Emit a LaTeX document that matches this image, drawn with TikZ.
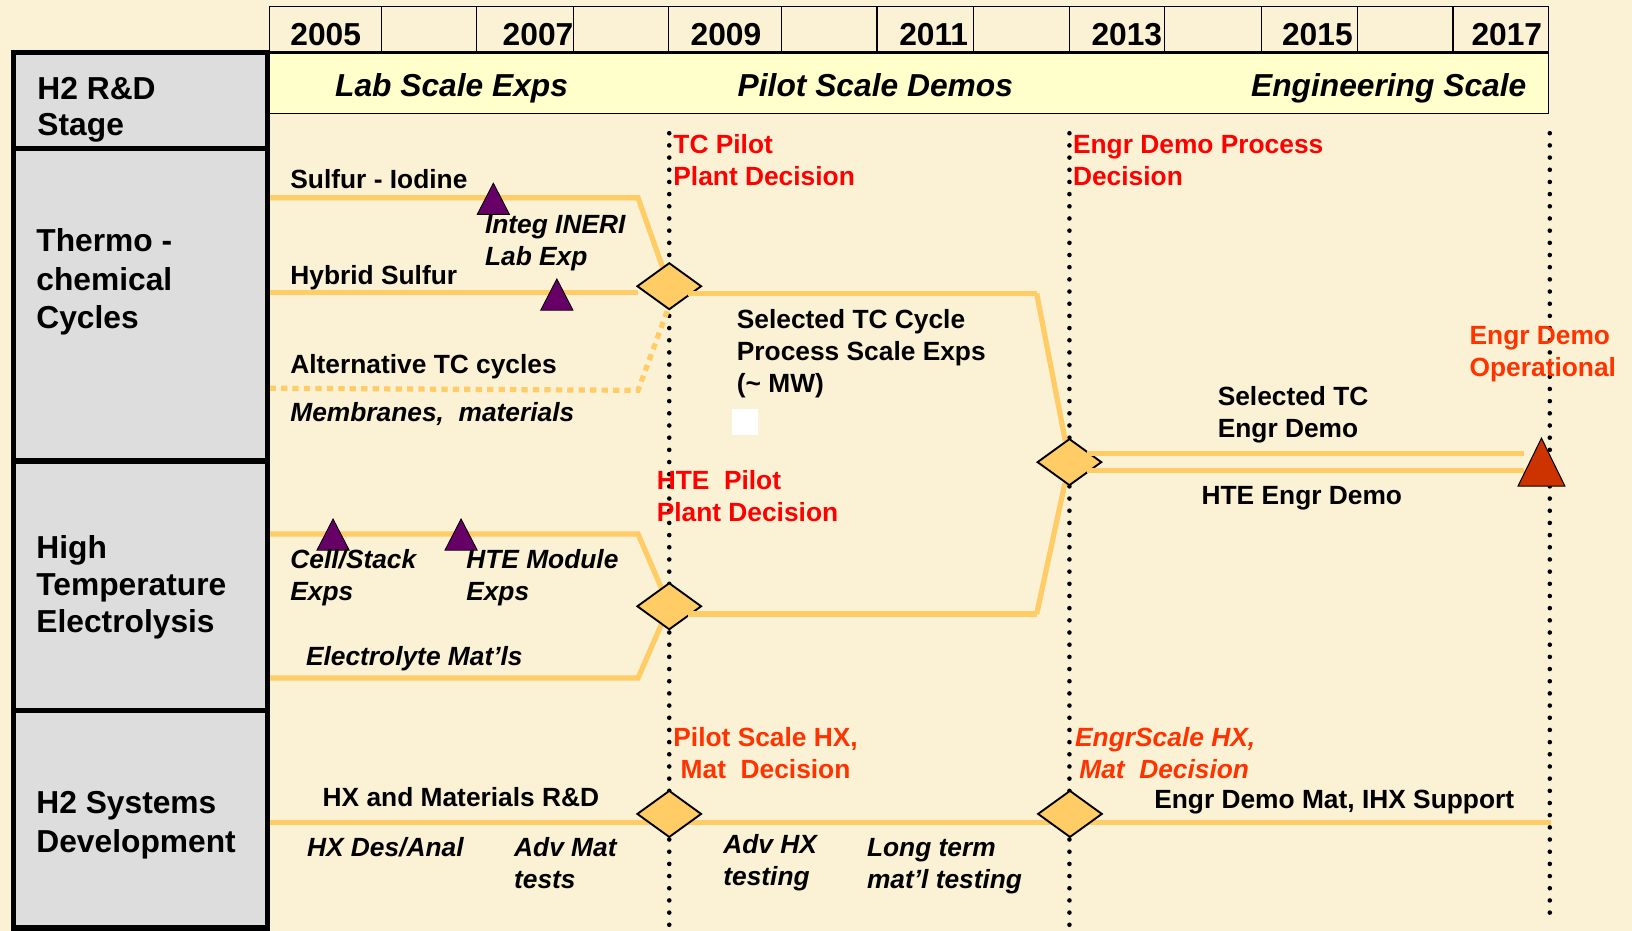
\documentclass[tikz,border=0pt]{standalone}
\usepackage{fontspec}
\setmainfont{Liberation Sans}
\usetikzlibrary{shapes.geometric}
\definecolor{bgc}{RGB}{251,241,212}
\definecolor{trkc}{RGB}{255,204,102}
\definecolor{purp}{RGB}{102,0,102}
\definecolor{rtric}{RGB}{204,51,0}
\definecolor{redt}{RGB}{255,0,0}
\definecolor{oredt}{RGB}{255,51,0}
\definecolor{grayb}{RGB}{221,221,221}
\definecolor{bandc}{RGB}{255,255,204}
\pgfdeclarelayer{back}
\pgfsetlayers{back,main}
\begin{document}
\begin{tikzpicture}[x=1pt,y=-1pt,
  txt/.style={inner sep=0pt, outer sep=0pt, anchor=base west, align=left},
  big/.style={txt, font=\fontsize{30.5}{37}\selectfont\bfseries},
  bigi/.style={txt, font=\fontsize{30.5}{37}\selectfont\bfseries\itshape},
  lab/.style={txt, font=\fontsize{25.3}{30.8}\selectfont\bfseries},
  labi/.style={txt, font=\fontsize{25.3}{30.8}\selectfont\bfseries\itshape},
  track/.style={draw=trkc, line width=5pt},
  dtrack/.style={track, dash pattern=on 6pt off 5pt},
  vdots/.style={draw=black, line width=4.4pt, line cap=round, dash pattern=on 0pt off 11.7pt},
  dia/.style={diamond, draw=black, line width=1.8pt, fill=trkc, minimum width=62pt, minimum height=45pt, inner sep=0pt},
  ptri/.style={fill=purp, draw=black, line width=0.8pt},
  redtri/.style={fill=rtric, draw=black, line width=1pt},
  colbox/.style={draw=black, fill=grayb, line width=5pt},
  thinframe/.style={draw=black, line width=1.2pt}]
\begin{pgfonlayer}{back}
\fill[bgc] (0,0) rectangle (1568,894);
\end{pgfonlayer}
\useasboundingbox (0,0) rectangle (1568,894);

% header rows
\draw[thinframe] (258.7,6.4) rectangle (1488,50.6);
\foreach \x in {366.8,458,551,642.6,751,842.6,935.5,1027.6,1119,1212,1304.3,1396}
  \draw[thinframe] (\x,6.4) -- (\x,50.6);
\draw[thinframe, fill=bandc] (258.7,50.6) rectangle (1488,109);
\draw[black, line width=3.5pt] (12.8,50.6) -- (1488,50.6);

% left column
\draw[colbox] (12.8,50.6) rectangle (257,142.5);
\draw[colbox] (12.8,142.5) rectangle (257,443);
\draw[colbox] (12.8,443) rectangle (257,683);
\draw[colbox] (12.8,683) rectangle (257,891.6);
\draw[black, line width=5pt] (257,891.6) -- (257,896);

\node[big, font=\fontsize{30.5}{34}\selectfont\bfseries] (stage) at (36,130) {H2 R\&D\\Stage};
\node[big] (tcc) at (35,316) {Thermo -\\chemical\\Cycles};
\node[big, font=\fontsize{30.5}{35.7}\selectfont\bfseries] (hte) at (35,608) {High\\Temperature\\Electrolysis};
\node[big] (sys) at (35,819) {H2 Systems\\Development};

% years
\node[big] (y05) at (279,43.5) {2005};
\node[big] (y07) at (483,43.5) {2007};
\node[big] (y09) at (663.6,43.5) {2009};
\node[big] (y11) at (864,43.5) {2011};
\node[big] (y13) at (1048.7,43.5) {2013};
\node[big] (y15) at (1231.8,43.5) {2015};
\node[big] (y17) at (1413.8,43.5) {2017};

% stages
\node[bigi] (lab) at (322,93) {Lab Scale Exps};
\node[bigi] (pil) at (708.8,93) {Pilot Scale Demos};
\node[bigi] (eng) at (1202,93) {Engineering Scale};

% vertical dotted decision lines
\coordinate (v1t) at (643,128);  \coordinate (v1b) at (643,896);
\coordinate (v2t) at (1027.5,128); \coordinate (v2b) at (1027.5,896);
\coordinate (v3t) at (1489,128); \coordinate (v3b) at (1489,880);
\begin{pgfonlayer}{back}
\draw[vdots] (v1t) -- (v1b);
\draw[vdots] (v2t) -- (v2b);
\draw[vdots] (v3t) -- (v3b);
\end{pgfonlayer}

% track coordinates
\coordinate (si0) at (259,190);   \coordinate (si1) at (613,190);
\coordinate (hy0) at (259,281);   \coordinate (hy1) at (613,281);
\coordinate (al0) at (259,373);   \coordinate (al1) at (613,375);  \coordinate (al2) at (641,299);
\coordinate (tc0) at (661,282);   \coordinate (tc1) at (996,282);
\coordinate (ht0) at (259,513);   \coordinate (ht1) at (613,513);
\coordinate (el0) at (259,651.5); \coordinate (el1) at (613,651.5);
\coordinate (hp0) at (661,590);   \coordinate (hp1) at (996,590);
\coordinate (ea0) at (1044,436);  \coordinate (ea1) at (1464,436);
\coordinate (eb0) at (1044,452);  \coordinate (eb1) at (1464,452);
\coordinate (sy0) at (259,790);   \coordinate (sy1) at (1490,790);

% decision diamonds
\node[dia] (D1) at (643,275) {};
\node[dia] (D2) at (643,582.5) {};
\node[dia] (D3) at (1027.5,444) {};
\node[dia] (D4) at (643,782) {};
\node[dia] (D5) at (1028,782) {};

% tracks behind diamonds
\begin{pgfonlayer}{back}
\draw[track] (si0) -- (si1) -- (D1);
\draw[track] (hy0) -- (hy1);
\draw[dtrack] (al0) -- (al1) -- (al2);
\draw[track] (ht0) -- (ht1) -- (D2);
\draw[track] (el0) -- (el1) -- (D2);
\draw[track] (tc1) -- (D3);
\draw[track] (hp1) -- (D3);
\draw[track] (sy0) -- (sy1);
\end{pgfonlayer}

% outgoing tracks on top of the diamonds
\draw[track] (tc0) -- (tc1);
\draw[track] (hp0) -- (hp1);
\draw[track] (ea0) -- (ea1);
\draw[track] (eb0) -- (eb1);

% milestones
\coordinate (t1) at (474,176);   \draw[ptri] (t1) -- ++(15.5,30) -- ++(-31,0) -- cycle;
\coordinate (t2) at (535,268);   \draw[ptri] (t2) -- ++(15.5,30) -- ++(-31,0) -- cycle;
\coordinate (t3) at (320,498.6); \draw[ptri] (t3) -- ++(15.5,30) -- ++(-31,0) -- cycle;
\coordinate (t4) at (443,498.6); \draw[ptri] (t4) -- ++(15.5,30) -- ++(-31,0) -- cycle;
\coordinate (t5) at (1481,421);  \draw[redtri] (t5) -- ++(22.5,46) -- ++(-45,0) -- cycle;

\node[fill=white, minimum size=25pt, inner sep=0pt] (wsq) at (716,405.5) {};

% labels TC
\node[lab] (l1) at (279,181) {Sulfur - Iodine};
\node[labi] (l2) at (466,255) {Integ INERI\\Lab Exp};
\node[lab] (l3) at (279,273) {Hybrid Sulfur};
\node[lab] (l4) at (279,359) {Alternative TC cycles};
\node[labi] (l5) at (279,405) {Membranes, \ materials};
\node[lab, text=redt] (l6) at (647,178) {TC Pilot\\Plant Decision};
\node[lab, text=redt] (l7) at (1031,178) {Engr Demo Process\\Decision};
\node[lab] (l8) at (708,377) {Selected TC Cycle\\Process Scale Exps\\(\textasciitilde{} MW)};
\node[lab, text=oredt] (l9) at (1412,362) {Engr Demo\\Operational};
\node[lab] (l10) at (1170,420.5) {Selected TC\\Engr Demo};
\node[lab] (l11) at (1154.5,484.5) {HTE Engr Demo};

% labels HTE
\node[lab, text=redt] (l12) at (631,501.5) {HTE \ Pilot\\Plant Decision};
\node[labi] (l13) at (279,577) {Cell/Stack\\Exps};
\node[labi] (l14) at (448,577) {HTE Module\\Exps};
\node[labi] (l15) at (294,639) {Electrolyte Mat’ls};

% labels systems
\node[lab, text=oredt] (l16) at (647,748) {Pilot Scale HX,\\\hspace*{7pt}Mat \ Decision};
\node[labi, text=oredt] (l17) at (1033,748) {EngrScale HX,\\\hspace*{4pt}Mat \ Decision};
\node[lab] (l18) at (310,775) {HX and Materials R\&D};
\node[lab] (l19) at (1109,777) {Engr Demo Mat, IHX Support};
\node[labi] (l20) at (295,823) {HX Des/Anal};
\node[labi] (l21) at (494,853.5) {Adv Mat\\tests};
\node[labi] (l22) at (695,850.5) {Adv HX\\testing};
\node[labi] (l23) at (833,854) {Long term\\mat’l testing};
\end{tikzpicture}
\end{document}
